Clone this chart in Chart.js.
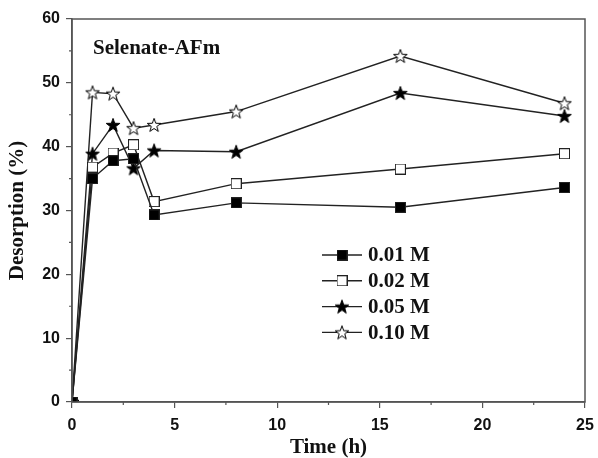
<!DOCTYPE html>
<html>
<head>
<meta charset="utf-8">
<script src="https://cdn.jsdelivr.net/npm/chart.js@4"></script>
<style>
  html, body { margin: 0; background: #fff; }
  #wrap { width: 598px; height: 458px; }
</style>
</head>
<body>
<div id="wrap"><canvas id="chart"></canvas></div>
<script>
// data
const hours = [0, 1, 2, 3, 4, 8, 16, 24];
const conc001 = [0, 35.0, 37.8, 38.1, 29.3, 31.2, 30.5, 33.6];
const conc002 = [0, 36.8, 39.0, 40.3, 31.4, 34.2, 36.5, 38.9];
const conc005 = [0, 38.9, 43.4, 36.6, 39.4, 39.2, 48.4, 44.8];
const conc010 = [0, 48.5, 48.3, 42.9, 43.4, 45.5, 54.2, 46.8];
const seriesLabels = ["0.01 M", "0.02 M", "0.05 M", "0.10 M"];
const xTicks = [0, 5, 10, 15, 20, 25];
const yTicks = [0, 10, 20, 30, 40, 50, 60];

const INK = "#222";
const AXIS = "#555";

// marker images
function starImage(filled) {
  const c = document.createElement("canvas");
  c.width = 16; c.height = 16;
  const g = c.getContext("2d");
  const R = 7.2, r = 2.9, cx = 8, cy = 8.6;
  g.beginPath();
  for (let i = 0; i < 10; i++) {
    const rad = i % 2 === 0 ? R : r;
    const a = -Math.PI / 2 + i * Math.PI / 5;
    const px = cx + rad * Math.cos(a), py = cy + rad * Math.sin(a);
    i === 0 ? g.moveTo(px, py) : g.lineTo(px, py);
  }
  g.closePath();
  g.fillStyle = filled ? "#000" : "#fff";
  g.fill();
  g.lineWidth = 1;
  g.strokeStyle = "#000";
  g.stroke();
  return c;
}
function squareImage(filled) {
  const c = document.createElement("canvas");
  c.width = 11; c.height = 11;
  const g = c.getContext("2d");
  g.fillStyle = filled ? "#000" : "#fff";
  g.fillRect(0.5, 0.5, 10, 10);
  g.strokeStyle = "#222";
  g.lineWidth = 1;
  g.strokeRect(0.5, 0.5, 10, 10);
  return c;
}
const markers = [squareImage(true), squareImage(false), starImage(true), starImage(false)];
const values = [conc001, conc002, conc005, conc010];

function makeSet(i) {
  return {
    label: seriesLabels[i],
    data: hours.map((h, k) => ({ x: h, y: values[i][k] })),
    borderColor: INK,
    borderWidth: 1.4,
    pointStyle: markers[i],
    pointRadius: 6,
    pointHoverRadius: 6,
    tension: 0,
    fill: false,
  };
}

// frame, minor ticks, inner title and inner legend
const decor = {
  id: "decor",
  afterDraw(chart) {
    const { ctx, chartArea: a, scales } = chart;
    ctx.save();
    ctx.strokeStyle = AXIS;
    ctx.lineWidth = 1.5;
    ctx.strokeRect(a.left, a.top, a.right - a.left, a.bottom - a.top);

    ctx.lineWidth = 1.2;
    ctx.beginPath();
    for (let v = 2.5; v < 25; v += 5) {
      const px = scales.x.getPixelForValue(v);
      ctx.moveTo(px, a.bottom);
      ctx.lineTo(px, a.bottom + 3);
    }
    for (let v = 5; v < 60; v += 10) {
      const py = scales.y.getPixelForValue(v);
      ctx.moveTo(a.left, py);
      ctx.lineTo(a.left - 3, py);
    }
    ctx.stroke();

    ctx.fillStyle = "#111";
    ctx.font = 'bold 21px "Liberation Serif"';
    ctx.textBaseline = "middle";
    ctx.textAlign = "left";
    ctx.fillText("Selenate-AFm", 93, 49);

    chart.data.datasets.forEach((ds, i) => {
      const y = 255 + i * 25.8;
      ctx.strokeStyle = INK;
      ctx.lineWidth = 1.4;
      ctx.beginPath();
      ctx.moveTo(322, y);
      ctx.lineTo(362, y);
      ctx.stroke();
      const img = ds.pointStyle;
      ctx.drawImage(img, 342 - img.width / 2, y - img.height / 2);
      ctx.fillText(ds.label, 368, y + 1);
    });
    ctx.restore();
  },
};

const tickFont = { family: "Liberation Sans", weight: "bold", size: 16 };
const titleFont = { family: "Liberation Serif", weight: "bold", size: 21 };

new Chart(document.getElementById("chart"), {
  type: "line",
  data: { datasets: [0, 1, 2, 3].map(makeSet) },
  options: {
    responsive: true,
    maintainAspectRatio: false,
    animation: false,
    layout: { padding: { top: 19, right: 13, left: 0, bottom: 0 } },
    plugins: { legend: { display: false }, tooltip: { enabled: false } },
    scales: {
      x: {
        type: "linear",
        min: 0,
        max: 25,
        afterBuildTicks: (s) => { s.ticks = xTicks.map((v) => ({ value: v })); },
        afterFit: (s) => { s.height = 56; s.paddingRight = 0; s.paddingLeft = 0; },
        ticks: { color: "#111", font: tickFont, padding: 8, maxRotation: 0 },
        grid: { display: true, drawOnChartArea: false, tickLength: 6, color: AXIS, lineWidth: 1.2 },
        border: { display: true, color: AXIS, width: 1.5 },
        title: { display: true, text: "Time (h)", color: "#111", font: titleFont, padding: { top: 0, bottom: -2 } },
      },
      y: {
        min: 0,
        max: 60,
        afterBuildTicks: (s) => { s.ticks = yTicks.map((v) => ({ value: v })); },
        afterFit: (s) => { s.width = 72; s.paddingTop = 0; s.paddingBottom = 0; },
        ticks: { color: "#111", font: tickFont, padding: 6 },
        grid: { display: true, drawOnChartArea: false, tickLength: 6, color: AXIS, lineWidth: 1.2 },
        border: { display: true, color: AXIS, width: 1.5 },
        title: { display: true, text: "Desorption (%)", color: "#111", font: titleFont, padding: { top: 5, bottom: 0 } },
      },
    },
  },
  plugins: [decor],
});
</script>
</body>
</html>
